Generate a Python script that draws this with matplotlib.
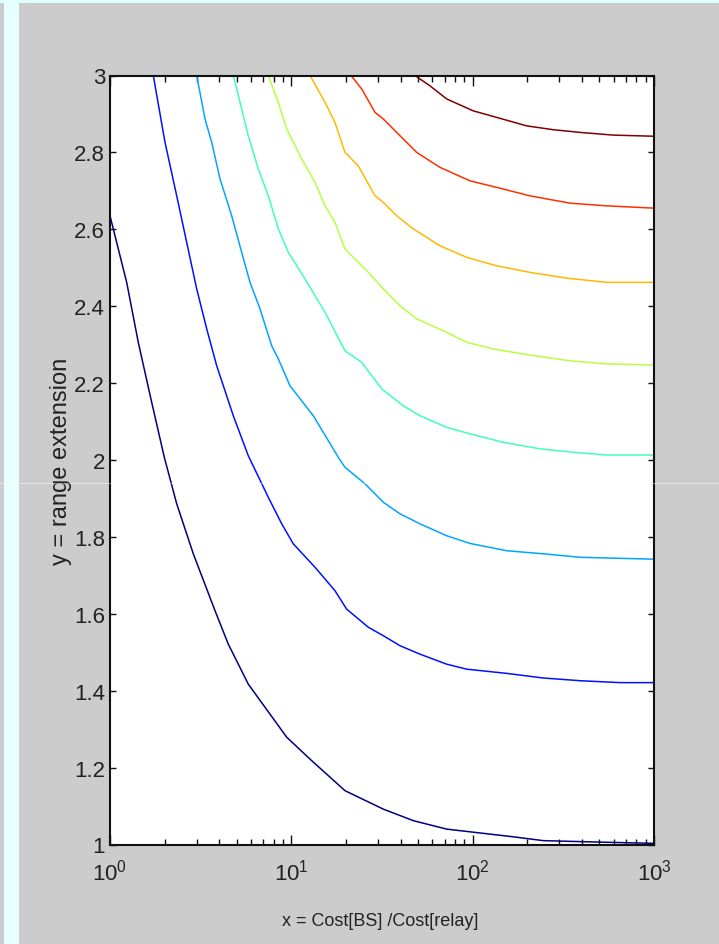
import matplotlib
matplotlib.use('Agg')
from matplotlib import pyplot as plt
from matplotlib.patches import Rectangle
from matplotlib.lines import Line2D
import numpy as np

plt.rcParams['font.family'] = ['Liberation Sans', 'DejaVu Sans']

# contour lines (x = cost ratio, y = range extension)
x1 = [1.0, 1.236, 1.432, 1.698, 1.993, 2.333, 2.880, 3.795, 4.492, 5.790, 7.158, 9.43,
      12.95, 19.77, 32.15, 47.06, 71.9, 100.8, 167.5, 245.3, 523.4, 1000]
y1 = [2.635, 2.462, 2.306, 2.150, 2.007, 1.886, 1.756, 1.608, 1.521, 1.417, 1.357, 1.279,
      1.218, 1.140, 1.092, 1.062, 1.040, 1.032, 1.020, 1.010, 1.006, 1.003]

x2 = [1.733, 2.011, 2.333, 2.648, 3.007, 3.415, 3.877, 4.786, 5.790, 7.464, 8.849, 10.25,
      13.51, 17.41, 20.20, 26.58, 32.15, 39.74, 51.24, 71.9, 92.7, 154.1, 245.3, 390.8, 649.5, 1000]
y2 = [3.0, 2.826, 2.687, 2.566, 2.445, 2.341, 2.245, 2.115, 2.011, 1.903, 1.834, 1.782,
      1.721, 1.660, 1.612, 1.565, 1.543, 1.517, 1.495, 1.469, 1.456, 1.445, 1.433, 1.426, 1.421, 1.421]

x3 = [3.007, 3.342, 3.638, 4.044, 4.690, 5.325, 5.916, 6.720, 7.794, 8.477, 9.83, 13.22,
      18.16, 19.77, 25.49, 32.15, 39.74, 51.24, 71.9, 96.7, 154.1, 245.3, 390.8, 1000]
y3 = [3.0, 2.887, 2.826, 2.731, 2.635, 2.540, 2.462, 2.393, 2.297, 2.263, 2.193, 2.115,
      2.007, 1.981, 1.938, 1.890, 1.860, 1.834, 1.803, 1.783, 1.764, 1.756, 1.747, 1.742]

x4 = [4.786, 5.325, 5.790, 6.576, 7.464, 8.477, 9.623, 11.90, 15.34, 19.77, 24.44, 31.51,
      41.46, 51.24, 71.9, 96.7, 147.6, 235.2, 358.9, 548.6, 1000]
y4 = [3.0, 2.913, 2.843, 2.757, 2.687, 2.601, 2.540, 2.471, 2.384, 2.284, 2.254, 2.185,
      2.141, 2.115, 2.085, 2.068, 2.046, 2.029, 2.020, 2.013, 2.013]

x5 = [7.464, 8.477, 9.43, 11.41, 13.51, 15.34, 17.41, 19.77, 26.58, 32.15, 39.74, 49.13,
      71.9, 92.7, 135.7, 207.1, 344.2, 548.6, 1000]
y5 = [3.0, 2.930, 2.861, 2.783, 2.722, 2.661, 2.618, 2.549, 2.488, 2.445, 2.401, 2.367,
      2.332, 2.306, 2.287, 2.273, 2.258, 2.250, 2.247]

x6 = [12.68, 15.34, 17.41, 19.77, 23.40, 28.94, 32.15, 38.12, 47.06, 66.06, 92.7, 135.7,
      207.1, 330.1, 548.6, 1000]
y6 = [3.0, 2.930, 2.878, 2.800, 2.765, 2.687, 2.670, 2.635, 2.601, 2.557, 2.527, 2.505,
      2.488, 2.473, 2.462, 2.462]

x7 = [21.34, 24.44, 28.94, 32.15, 38.12, 49.13, 66.06, 96.7, 135.7, 207.1, 344.2, 548.6, 1000]
y7 = [3.0, 2.965, 2.904, 2.887, 2.852, 2.800, 2.761, 2.726, 2.709, 2.687, 2.668, 2.661, 2.655]

x8 = [48.08, 58.19, 71.9, 100.8, 135.7, 198.6, 278.4, 390.8, 596.5, 1000]
y8 = [3.0, 2.973, 2.939, 2.908, 2.891, 2.869, 2.859, 2.852, 2.845, 2.842]

curves = [(x1, y1), (x2, y2), (x3, y3), (x4, y4), (x5, y5), (x6, y6), (x7, y7), (x8, y8)]
yticks = [1, 1.2, 1.4, 1.6, 1.8, 2, 2.2, 2.4, 2.6, 2.8, 3]
ytick_labels = ['1', '1.2', '1.4', '1.6', '1.8', '2', '2.2', '2.4', '2.6', '2.8', '3']

fig = plt.figure(figsize=(7.19, 9.45), dpi=100, facecolor='#cccccc')

# light cyan frame strips of the screenshot
fig.patches.append(Rectangle((0, 1 - 4 / 945), 1, 4 / 945, transform=fig.transFigure,
                             facecolor='#e0ffff', edgecolor='none', zorder=0))
fig.patches.append(Rectangle((4 / 719, 0), 15 / 719, 1 - 4 / 945, transform=fig.transFigure,
                             facecolor='#e8ffff', edgecolor='none', zorder=0))

ax = fig.add_axes([110 / 719, (945 - 845.5) / 945, 544 / 719, 769 / 945])
ax.set_facecolor('white')

colors = plt.cm.jet(np.linspace(0, 1, len(curves)))
for (xs, ys), c in zip(curves, colors):
    ax.plot(xs, ys, color=c, lw=1.1)

ax.set_xscale('log')
ax.set_xlim(1, 1000)
ax.set_ylim(1, 3)
ax.set_yticks(yticks)
ax.set_yticklabels(ytick_labels)

for s in ax.spines.values():
    s.set_linewidth(1.5)
    s.set_color('#111111')

ax.tick_params(axis='both', which='both', direction='in', top=True, right=True,
               colors='#111111', labelcolor='#222222')
ax.tick_params(axis='y', which='major', length=4.3, width=1, labelsize=16, pad=3.5)
ax.tick_params(axis='x', which='major', length=7, width=1, labelsize=16, pad=10)
ax.tick_params(axis='x', which='minor', length=4, width=1)

ax.set_xlabel('x = Cost[BS] /Cost[relay]', fontsize=13, color='#222222')
ax.xaxis.set_label_coords(0.496, -0.088)
ax.set_ylabel('y = range extension', fontsize=17, color='#222222')
ax.yaxis.set_label_coords(-0.07, 0.5)

# faint horizontal artefact line across the screenshot
fig.add_artist(Line2D([0, 1], [1 - 483.5 / 945] * 2, transform=fig.transFigure,
                      color='white', lw=0.6, alpha=0.5, zorder=5))

fig.savefig('out.png', dpi=100, facecolor=fig.get_facecolor())
